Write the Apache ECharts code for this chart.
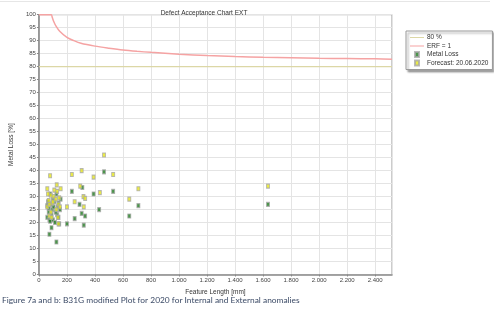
<!DOCTYPE html>
<html>
<head>
<meta charset="utf-8">
<script src="https://cdn.jsdelivr.net/npm/echarts@6/dist/echarts.min.js"></script>
<style>html,body{margin:0;padding:0;background:#fff}#c{width:494px;height:314px}</style>
</head>
<body>
<div id="c"></div>
<script>
const titleText = 'Defect Acceptance Chart EXT';
const captionText = 'Figure 7a and b: B31G modified Plot for 2020 for Internal and External anomalies';
const xName = 'Feature Length [mm]';
const yName = 'Metal Loss [%]';
const xMin = 0, xMax = 2520, xStep = 200;
const yMin = 0, yMax = 100, yStep = 5;

const line80 = [[0, 80], [2520, 80]];
const erfCurve = [[0,100],[88,100],[95,99],[105,97.5],[120,95.8],[150,93.5],[200,91.3],[250,90],[300,89],[400,87.9],[500,87.1],[600,86.4],[700,85.9],[800,85.5],[1000,84.8],[1200,84.3],[1400,83.9],[1600,83.6],[1800,83.4],[2000,83.2],[2200,83.1],[2400,83],[2520,82.9]];

const metalLoss = [
  [465,39.5],[530,32],[235,32],[310,33.5],[390,31],[290,27],[430,25],[305,23.5],[330,22.5],[320,19],
  [255,21.5],[200,19.5],[645,22.5],[710,26.5],[1635,27],
  [60,26.5],[60,22],[65,28],[70,24],[75,21],[75,15.5],[80,31],[85,27],[90,18],[90,23],[95,25],
  [100,21],[105,26],[110,28],[115,20],[125,12.5],[125,31],[130,23],[135,26],[140,22],[145,19.5],
  [150,25],[155,29],[80,20.5],[70,25.5],[100,29],[120,24],[140,27.5]
];
const forecast = [
  [465,46],[530,38.5],[235,38.5],[305,40],[390,37.5],[295,34],[435,31.5],[318,30],[330,29.3],[320,26],
  [255,28],[200,26],[645,29],[710,33],[1635,34],
  [80,38],[60,33],[127,34.5],[130,32],[85,30.5],[105,30],[145,29.5],[70,28.5],[95,27.5],[140,27],
  [60,26],[125,25],[75,22.5],[140,19.5],[65,31],[110,32.5],[150,26],[90,22],[100,28],[75,27],
  [120,29],[155,33],[85,24],[135,22]
];

function fmtThousands(v){
  if (v % xStep !== 0) return '';
  return String(v).replace(/\B(?=(\d{3})+(?!\d))/g, '.');
}

const chart = echarts.init(document.getElementById('c'), null, {renderer: 'canvas'});
const font = 'Liberation Sans';
chart.setOption({
  animation: false,
  backgroundColor: '#fff',
  textStyle: {fontFamily: font},
  title: {
    text: titleText, left: 199, top: 5, textAlign: 'center',
    textStyle: {fontSize: 6.5, fontWeight: 'normal', color: '#333', fontFamily: font}
  },
  legend: {
    orient: 'vertical', left: 406, top: 31, width: 78,
    padding: [3, 4, 3, 4], itemGap: 1.5, itemWidth: 14, itemHeight: 5,
    backgroundColor: '#fff', borderColor: '#999', borderWidth: 1,
    shadowBlur: 2, shadowOffsetX: 2, shadowOffsetY: 2, shadowColor: 'rgba(0,0,0,0.35)',
    textStyle: {fontSize: 6.5, color: '#333', fontFamily: font, padding: [0,0,0,-2]},
    data: [
      {name: '80 %', icon: 'path://M0,0 L14,0 L14,1 L0,1 Z'},
      {name: 'ERF = 1', icon: 'path://M0,0 L14,0 L14,1 L0,1 Z'},
      {name: 'Metal Loss', icon: 'path://M5,0 L9,0 L9,5 L5,5 Z'},
      {name: 'Forecast: 20.06.2020', icon: 'path://M5,0 L9,0 L9,5 L5,5 Z'}
    ]
  },
  grid: {left: 30, right: 102, top: 14.7, bottom: 39.5, containLabel: false,
    show: true, borderColor: '#999', borderWidth: 1},
  graphic: [
    {type: 'line', shape: {x1: 0, y1: 1.5, x2: 490, y2: 1.5}, style: {stroke: '#e6e6e6', lineWidth: 1}},
    {type: 'text', left: 2, top: 296, style: {text: captionText, fontSize: 8.4, fill: '#3b4a66', fontFamily: 'Lato'}}
  ],
  xAxis: {
    type: 'value', min: xMin, max: xMax, interval: xStep,
    name: xName, nameLocation: 'middle', nameGap: 9,
    nameTextStyle: {fontSize: 6.5, color: '#333'},
    axisLine: {show: true, onZero: false, lineStyle: {color: '#888', width: 1.5}},
    axisTick: {show: true, length: 2, lineStyle: {color: '#888'}},
    axisLabel: {fontSize: 6, color: '#444', margin: 3, formatter: fmtThousands, showMaxLabel: false},
    splitLine: {show: true, lineStyle: {color: '#e4e4e4', width: 1}}
  },
  yAxis: {
    type: 'value', min: yMin, max: yMax, interval: yStep,
    name: yName, nameLocation: 'middle', nameGap: 17,
    nameTextStyle: {fontSize: 6.5, color: '#333'},
    axisLine: {show: true, onZero: false, lineStyle: {color: '#888', width: 1.5}},
    axisTick: {show: true, length: 2, lineStyle: {color: '#888'}},
    axisLabel: {fontSize: 6, color: '#444', margin: 3},
    splitLine: {show: true, lineStyle: {color: '#e4e4e4', width: 1}}
  },
  series: [
    {name: '80 %', type: 'line', data: line80, symbol: 'none', color: '#dcd7a6',
      lineStyle: {color: '#dcd7a6', width: 1.2}},
    {name: 'ERF = 1', type: 'line', data: erfCurve, symbol: 'none', smooth: 0.3, color: '#f5a3a3',
      lineStyle: {color: '#f5a3a3', width: 1.5}},
    {name: 'Metal Loss', type: 'scatter', data: metalLoss, symbol: 'rect', symbolSize: [3, 4],
      itemStyle: {color: '#1e7a1e', borderColor: '#a8a8a8', borderWidth: 1}},
    {name: 'Forecast: 20.06.2020', type: 'scatter', data: forecast, symbol: 'rect', symbolSize: [3, 4],
      itemStyle: {color: '#e6e619', borderColor: '#a8a8a8', borderWidth: 1}}
  ]
});
</script>
</body>
</html>
